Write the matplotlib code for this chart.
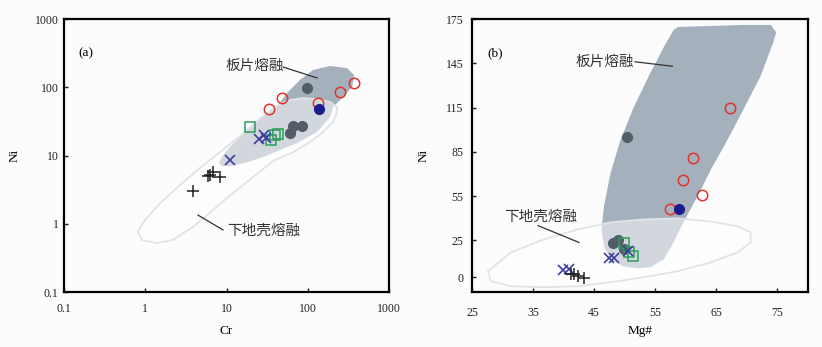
import matplotlib
matplotlib.use("Agg")
import matplotlib.pyplot as plt

plt.rcParams['font.family'] = ['Liberation Serif', 'Noto Sans CJK SC']

# ---------------- (a) Cr - Ni ----------------
a_red_cr = [33, 48, 134, 249, 370]
a_red_ni = [48, 69, 59, 85, 115]
a_blue_cr = [137]
a_blue_ni = [48]
a_gray_cr = [98, 66, 85, 60]
a_gray_ni = [97, 27, 27.5, 21.5]
a_sq_cr = [19.5, 35, 39, 43]
a_sq_ni = [26, 17, 20, 20.5]
a_x_cr = [11, 25, 29, 31]
a_x_ni = [8.6, 17.5, 20, 18]
a_plus_cr = [3.9, 5.9, 6.8, 8.3, 6.3]
a_plus_ni = [3.0, 5.0, 5.7, 4.8, 5.2]

# slab melt field (Cr, Ni)
a_slab_cr = [8.09, 9.06, 11.0, 13.5, 19.5, 31.5, 43.0, 55.6, 80, 116, 188, 304,
             371, 351, 272, 205, 188, 130, 73.8, 45.5, 28.1, 16.9, 11.0, 8.8]
a_slab_ni = [7.76, 10.2, 13.3, 16.9, 26.2, 42, 55, 82.4, 128, 179, 205, 191,
             151, 101, 72, 51.4, 36.6, 22.1, 15.2, 12.0, 9.5, 7.76, 7.0, 7.0]
# lower crust melt field
a_crust_cr = [0.81, 0.99, 1.52, 2.68, 4.72, 8.3, 14.7, 24.4, 34.3, 43.0, 60.5,
              87.5, 130, 188, 229, 229, 205, 150, 107, 66, 37.3, 21.2, 12.0,
              6.8, 3.87, 2.2, 1.40, 0.91]
a_crust_ni = [0.76, 1.13, 2.0, 3.7, 6.6, 11.2, 19.3, 33, 44.9, 55, 65,
              69.5, 67.3, 60.8, 51.4, 43.4, 31, 21.4, 15.8, 11.2, 8.3, 4.84, 2.82,
              1.59, 0.90, 0.58, 0.52, 0.58]

# ---------------- (b) Mg# - Ni ----------------
b_red_mg = [67.2, 61.1, 59.5, 62.7, 57.4]
b_red_ni = [115, 81, 66, 56, 46]
b_blue_mg = [58.8]
b_blue_ni = [46]
b_gray_mg = [50.3, 48.0, 48.9, 49.9]
b_gray_ni = [95, 23.5, 25.5, 19]
b_sq_mg = [49.8, 50.7, 51.3]
b_sq_ni = [23, 17, 14.5]
b_x_mg = [47.4, 48.3, 50.6, 39.9, 40.8]
b_x_ni = [13, 13, 18, 4.7, 5.4]
b_plus_mg = [41.2, 41.7, 42.3, 43.3]
b_plus_ni = [2, 2, 0.7, -0.7]

b_slab_mg = [58.7, 69.4, 73.9, 74.8, 74.3, 72.2, 69.4, 66.8, 64.1, 61.9, 59.6,
             58.0, 56.4, 54.2, 52.1, 49.8, 47.7, 46.6, 46.2, 46.6, 47.7, 49.3,
             51.5, 54.2, 56.4, 58.0]
b_slab_ni = [169.6, 171, 171, 166, 159, 136, 113.5, 93, 73, 54.7, 37.2,
             23.6, 12.2, 6.8, 6.1, 7.4, 12.2, 21, 32.4, 48, 71, 93,
             115.5, 138.5, 156, 167.6]
b_crust_mg = [27.6, 31.4, 36.8, 42.3, 47.7, 53.1, 58.7, 64.1, 68.5, 70.6, 70.6,
              68.5, 64.1, 58.7, 53.1, 47.7, 42.3, 36.8, 31.4, 28.1]
b_crust_ni = [4.1, 16.9, 25.7, 32.4, 37.2, 39.2, 39.9, 37.8, 34.5, 30.4, 23.6,
              16.9, 10.1, 4.1, 0, -3.4, -6.1, -6.8, -6.1, -2.7]

SLAB = '#a5b0bd'
BG = '#fcfcfd'
RED = '#e0342c'
GRAY = '#535d67'
NAVY = '#1c1c8f'
GREEN = '#2a9d5c'
XBLUE = '#3b3f9e'
EDGE = '#e0e3e7'


def draw_points(ax, red, blue, gray, sq, xs, plus):
    ax.plot(*gray, 'o', ms=7, mfc=GRAY, mec=GRAY, zorder=5)
    ax.plot(*sq, 's', ms=7, mfc='none', mec=GREEN, mew=1.1, zorder=6)
    ax.plot(*xs, 'x', ms=7.5, mec=XBLUE, mew=1.2, zorder=6)
    ax.plot(*plus, '+', ms=8, mec='#222222', mew=1.1, zorder=6)
    ax.plot(*red, 'o', ms=7.5, mfc='none', mec=RED, mew=1.1, zorder=7)
    ax.plot(*blue, 'o', ms=7, mfc=NAVY, mec=NAVY, zorder=7)


def style(ax):
    for s in ax.spines.values():
        s.set_linewidth(1.6)
    ax.set_facecolor(BG)
    ax.tick_params(direction='in', length=3, width=1, labelsize=8.5, colors='#222222')


def fields(ax, sx, sy, cx, cy):
    ax.fill(sx, sy, color=SLAB, lw=0, zorder=1)
    ax.fill(cx, cy, facecolor='white', alpha=0.5, lw=0, zorder=2)
    ax.fill(cx, cy, facecolor='none', edgecolor=EDGE, lw=1.3, joinstyle='round', zorder=2)


fig = plt.figure(figsize=(8.22, 3.47), dpi=100, facecolor=BG)

# panel a
ax1 = fig.add_axes([0.0779, 0.1585, 0.3954, 0.7867])
ax1.set_xscale('log')
ax1.set_yscale('log')
ax1.set_xlim(0.1, 1000)
ax1.set_ylim(0.1, 1000)
fields(ax1, a_slab_cr, a_slab_ni, a_crust_cr, a_crust_ni)
draw_points(ax1, (a_red_cr, a_red_ni), (a_blue_cr, a_blue_ni), (a_gray_cr, a_gray_ni),
            (a_sq_cr, a_sq_ni), (a_x_cr, a_x_ni), (a_plus_cr, a_plus_ni))
ticks = [0.1, 1, 10, 100, 1000]
ax1.set_xticks(ticks)
ax1.set_xticklabels(['0.1', '1', '10', '100', '1000'])
ax1.set_yticks(ticks)
ax1.set_yticklabels(['0.1', '1', '10', '100', '1000'])
ax1.minorticks_off()
style(ax1)
ax1.tick_params(axis='x', pad=8)
ax1.tick_params(axis='y', pad=4)
ax1.set_xlabel('Cr', fontsize=9.5, labelpad=7)
ax1.set_ylabel('Ni', fontsize=9.5, labelpad=10)
ax1.text(0.045, 0.865, '(a)', transform=ax1.transAxes, fontsize=9.5)
ax1.text(9.6, 205, '板片熔融', fontsize=10.5, va='center', color='#333333')
ax1.plot([49.5, 130], [198, 137], color='#333333', lw=0.9, zorder=8)
ax1.text(10.1, 0.78, '下地壳熔融', fontsize=10.5, va='center', color='#333333')
ax1.plot([4.45, 9.06], [1.34, 0.81], color='#333333', lw=0.9, zorder=8)

# panel b
ax2 = fig.add_axes([0.5742, 0.1585, 0.4088, 0.7867])
ax2.set_xlim(25, 80)
ax2.set_ylim(-10, 175)
fields(ax2, b_slab_mg, b_slab_ni, b_crust_mg, b_crust_ni)
draw_points(ax2, (b_red_mg, b_red_ni), (b_blue_mg, b_blue_ni), (b_gray_mg, b_gray_ni),
            (b_sq_mg, b_sq_ni), (b_x_mg, b_x_ni), (b_plus_mg, b_plus_ni))
ax2.set_xticks([25, 35, 45, 55, 65, 75])
ax2.set_yticks([0, 25, 55, 85, 115, 145, 175])
style(ax2)
ax2.tick_params(axis='x', pad=11)
ax2.tick_params(axis='y', pad=6)
ax2.set_xlabel('Mg#', fontsize=9.5, labelpad=4)
ax2.set_ylabel('Ni', fontsize=9.5, labelpad=12)
ax2.text(0.045, 0.865, '(b)', transform=ax2.transAxes, fontsize=9.5)
ax2.text(51.5, 146, '板片熔融', fontsize=10.5, va='center', ha='right', color='#333333')
ax2.plot([51.7, 57.8], [146, 143], color='#333333', lw=0.9, zorder=8)
ax2.text(30.2, 41, '下地壳熔融', fontsize=10.5, va='center', color='#333333')
ax2.plot([35.8, 42.5], [35, 23.6], color='#333333', lw=0.9, zorder=8)

fig.savefig('out.png', dpi=100, facecolor=BG)
